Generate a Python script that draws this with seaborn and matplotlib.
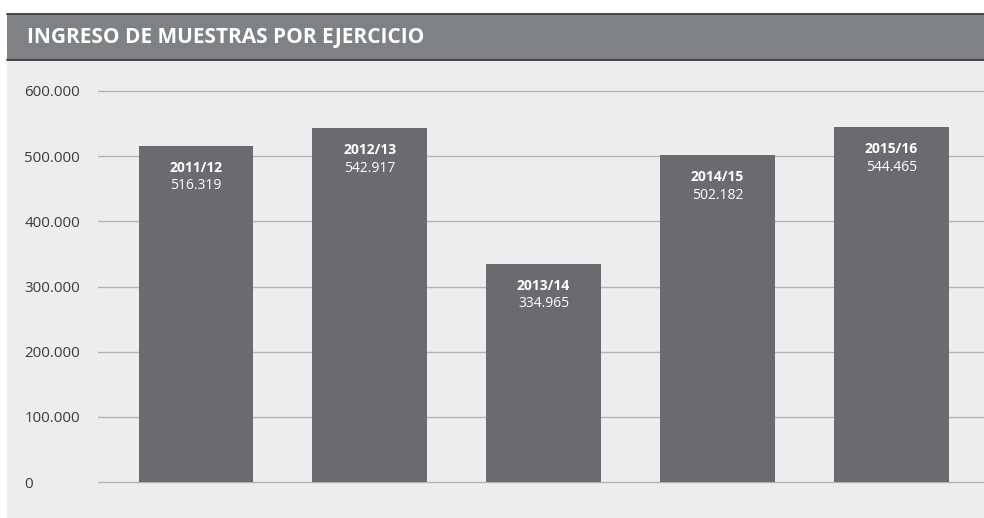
import matplotlib
matplotlib.use("Agg")
import matplotlib.pyplot as plt
import seaborn as sns
import pandas as pd
from matplotlib.patches import Rectangle
from matplotlib.lines import Line2D
from matplotlib.ticker import FuncFormatter

# data
ejercicios = ["2011/12", "2012/13", "2013/14", "2014/15", "2015/16"]
muestras = [516319, 542917, 334965, 502182, 544465]
titulo = "INGRESO DE MUESTRAS POR EJERCICIO"

df = pd.DataFrame({"ejercicio": ejercicios, "muestras": muestras})

sns.set_style("white")
plt.rcParams["font.family"] = ["Open Sans", "DejaVu Sans"]

W, H = 984, 518
fig = plt.figure(figsize=(W / 100, H / 100), dpi=100)
fig.patch.set_facecolor("white")

# background panel + title band
fig.patches.append(Rectangle((7 / W, 0), 1 - 7 / W, 1 - 60 / H, transform=fig.transFigure,
                             facecolor="#ededed", edgecolor="none", zorder=-2))
fig.patches.append(Rectangle((7 / W, 1 - 60 / H), 1 - 7 / W, 46 / H, transform=fig.transFigure,
                             facecolor="#808184", edgecolor="none", zorder=-2))
for yy in (14, 60):
    fig.lines.append(Line2D([7 / W, 1], [1 - yy / H, 1 - yy / H], transform=fig.transFigure,
                            color="#3a3a3a", lw=1.3, zorder=-1))
fig.text(27 / W, 1 - 37 / H, titulo, color="white", fontsize=15, fontweight="bold",
         va="center", ha="left")

ax = fig.add_axes([98 / W, 36 / H, 1 - 98 / W, (482 - 91) / H])
ax.set_facecolor("none")

sns.barplot(data=df, x="ejercicio", y="muestras", color="#6b6b6f", saturation=1,
            width=0.66, linewidth=0, ax=ax, zorder=3)

ax.set_xlim(-0.563, 4.534)
ax.set_ylim(0, 600000)
ax.set_yticks(range(0, 600001, 100000))
ax.yaxis.set_major_formatter(FuncFormatter(lambda v, p: f"{int(v):,}".replace(",", ".")))
ax.grid(axis="y", color="#b4b4b4", lw=1, zorder=0)
ax.set_axisbelow(True)
for s in ax.spines.values():
    s.set_visible(False)
ax.set_xticks([])
ax.set_xlabel("")
ax.set_ylabel("")
ax.tick_params(axis="y", length=0, pad=53, labelsize=10.8, labelcolor="#3a3a3a")
for lab in ax.get_yticklabels():
    lab.set_horizontalalignment("left")
for gl in ax.get_ygridlines():
    gl.set_clip_on(False)

# labels inside bars
for i, (e, v) in enumerate(zip(ejercicios, muestras)):
    ax.annotate(e, (i, v), xytext=(0, -16), textcoords="offset points", ha="center",
                va="center", color="white", fontsize=10, fontweight="bold", zorder=5)
    ax.annotate(f"{v:,}".replace(",", "."), (i, v), xytext=(0, -29), textcoords="offset points",
                ha="center", va="center", color="white", fontsize=10, zorder=5)

fig.savefig("out.png", dpi=100)
